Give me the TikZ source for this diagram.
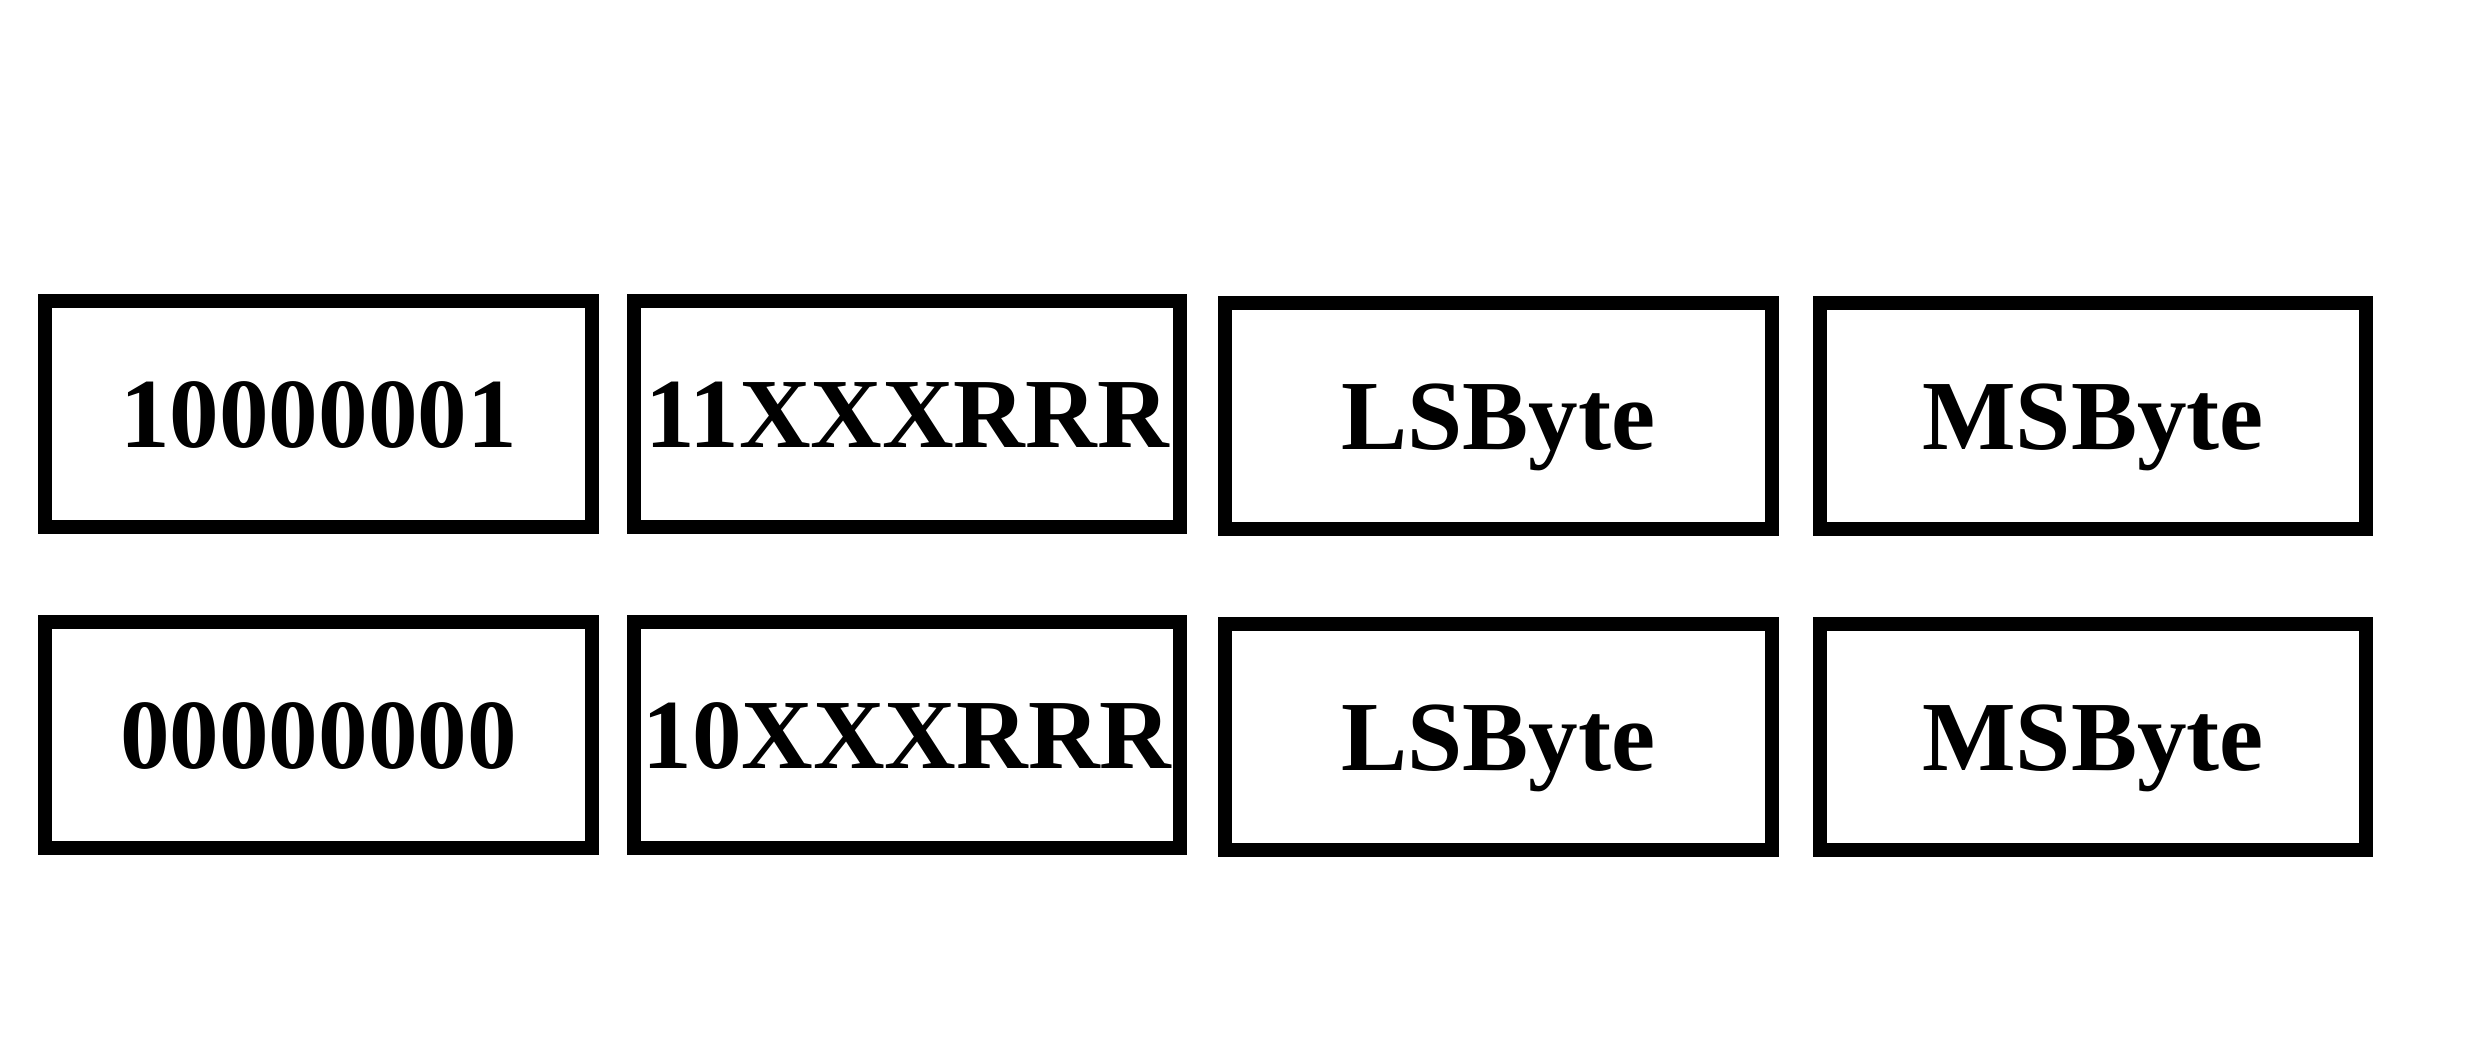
\documentclass[tikz,border=0pt]{standalone}
\usepackage{fontspec}
\setmainfont{Liberation Serif}
\begin{document}
\begin{tikzpicture}[x=0.01cm,y=-0.01cm,
  cell/.style={draw=black, line width=3.98pt, rectangle, inner sep=0pt,
    minimum width=5.46cm, minimum height=2.26cm,
    font=\fontsize{28.2}{30}\selectfont\bfseries,
    text height=19.2pt, text depth=0pt}]
\useasboundingbox (0,0) rectangle (2480,1041);
\node[cell] (a1) at (318.5,414) {10000001};
\node[cell] (b1) at (907,414) {11XXXRRR};
\node[cell] (c1) at (1498.5,416) {LSByte};
\node[cell] (d1) at (2093,416) {MSByte};
\node[cell] (a2) at (318.5,735) {00000000};
\node[cell] (b2) at (907,735) {10XXXRRR};
\node[cell] (c2) at (1498.5,737) {LSByte};
\node[cell] (d2) at (2093,737) {MSByte};
\end{tikzpicture}
\end{document}
